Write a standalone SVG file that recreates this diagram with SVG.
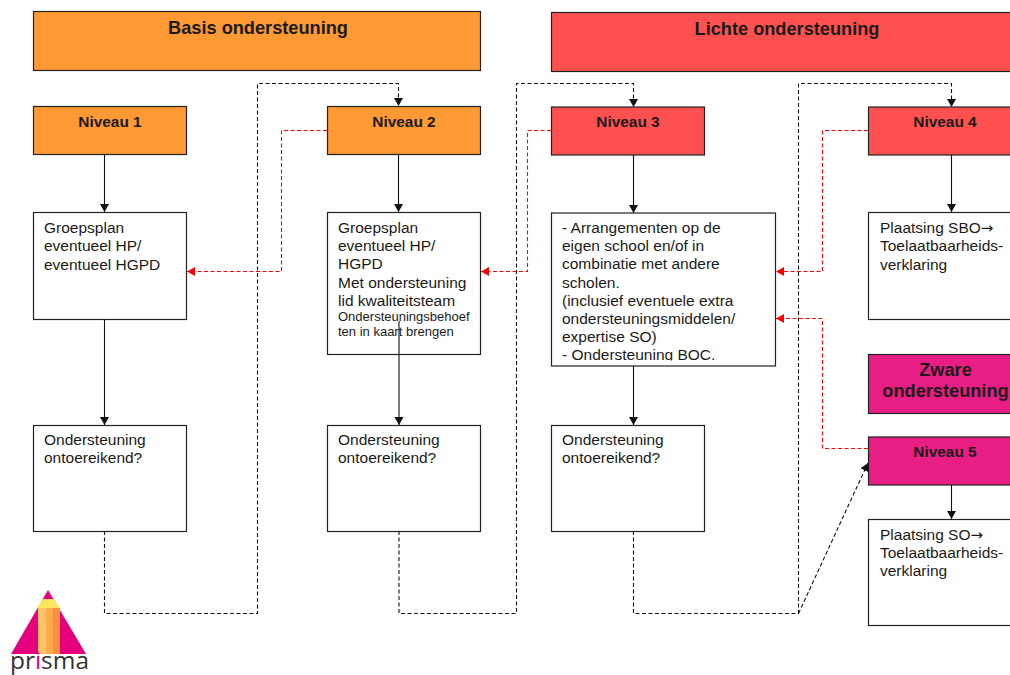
<svg xmlns="http://www.w3.org/2000/svg" width="1010" height="675" viewBox="0 0 1010 675">
<style>
text{font-family:"Liberation Sans",Arial,sans-serif;fill:#1a1a1a}
.t{font-size:15.5px}
.s{font-size:13px}
.h{font-size:18.2px;font-weight:bold;text-anchor:middle}
.n{font-size:15.4px;font-weight:bold;text-anchor:middle}
.x{font-family:"DejaVu Sans",sans-serif;font-size:15px}
.b{stroke:#222;stroke-width:1.2}
.w{fill:#fff}.o{fill:#FF9933}.r{fill:#FF5050}.p{fill:#E91E84}
.c{fill:none;stroke:#111;stroke-width:1.1}
.d{stroke-dasharray:4 2.5}
.e{fill:none;stroke:#f00;stroke-width:1.1;stroke-dasharray:4 2.5}
</style>
<defs>
<marker id="ak" markerUnits="userSpaceOnUse" markerWidth="9" markerHeight="10" refX="8" refY="4.500" orient="auto"><path d="M0 0L8 4.500L0 9Z" fill="#111"/></marker>
<marker id="ar" markerUnits="userSpaceOnUse" markerWidth="9" markerHeight="10" refX="8" refY="4.500" orient="auto"><path d="M0 0L8 4.500L0 9Z" fill="#f00"/></marker>
<clipPath id="boc"><rect x="552" y="214" width="222" height="146.500"/></clipPath>
</defs>
<g id="logo">
<path d="M48 590L86 654H11Z" fill="#E6007E"/>
<path d="M43 599H53L60 608H37Z" fill="#FFE55C"/>
<rect x="38" y="608" width="8" height="46" fill="#FFC266"/>
<rect x="46" y="608" width="7" height="46" fill="#FFAB4D"/>
<rect x="53" y="608" width="7" height="46" fill="#F98F3F"/>
<text x="10" y="669" style="font-family:'Open Sans',sans-serif;font-size:24px;fill:#333" textLength="79" lengthAdjust="spacingAndGlyphs">pr<tspan style="fill:#E6007E">i</tspan>sma</text>
</g>
<g id="basis"><rect class="b o" x="33.5" y="11.500" width="447" height="59"/><text class="h" x="258" y="34">Basis ondersteuning</text></g>
<g id="licht"><rect class="b r" x="551.5" y="12.500" width="470" height="59"/><text class="h" x="787" y="35">Lichte ondersteuning</text></g>
<g id="niveau1"><rect class="b o" x="33.5" y="106.500" width="153" height="48"/><text class="n" x="110" y="127">Niveau 1</text></g>
<g id="niveau2"><rect class="b o" x="327.5" y="106.500" width="153" height="48"/><text class="n" x="404" y="127">Niveau 2</text></g>
<g id="niveau3"><rect class="b r" x="551.5" y="107" width="153" height="48"/><text class="n" x="628" y="127">Niveau 3</text></g>
<g id="niveau4"><rect class="b r" x="868.5" y="107" width="153" height="48"/><text class="n" x="945" y="127">Niveau 4</text></g>
<g id="box1"><rect class="b w" x="33.5" y="212.500" width="153" height="107"/><text class="t" x="44" y="233">Groepsplan</text><text class="t" x="44" y="251">eventueel HP/</text><text class="t" x="44" y="270">eventueel HGPD</text></g>
<g id="box2"><rect class="b w" x="327.5" y="212.500" width="153" height="142"/><text class="t" x="338" y="233">Groepsplan</text><text class="t" x="338" y="251">eventueel HP/</text><text class="t" x="338" y="269">HGPD</text><text class="t" x="338" y="288">Met ondersteuning</text><text class="t" x="338" y="306">lid kwaliteitsteam</text><text class="s" x="338" y="321">Ondersteuningsbehoef</text><text class="s" x="338" y="336">ten in kaart brengen</text></g>
<g id="box3"><rect class="b w" x="551.5" y="213" width="224" height="153"/><g clip-path="url(#boc)"><text class="t" x="562" y="233">- Arrangementen op de</text><text class="t" x="562" y="251">eigen school en/of in</text><text class="t" x="562" y="269">combinatie met andere</text><text class="t" x="562" y="288">scholen.</text><text class="t" x="562" y="306">(inclusief eventuele extra</text><text class="t" x="562" y="324">ondersteuningsmiddelen/</text><text class="t" x="562" y="342">expertise SO)</text><text class="t" x="562" y="360">- Ondersteuning BOC.</text></g></g>
<g id="box4"><rect class="b w" x="868.5" y="212.500" width="153" height="107"/><text class="t" x="880" y="233">Plaatsing SBO<tspan class="x">→</tspan></text><text class="t" x="880" y="251">Toelaatbaarheids-</text><text class="t" x="880" y="270">verklaring</text></g>
<g id="zware"><rect class="b p" x="868.5" y="354.500" width="153" height="59"/><text class="h" x="945.500" y="376">Zware</text><text class="h" x="945.500" y="397">ondersteuning</text></g>
<g id="niveau5"><rect class="b p" x="868.5" y="437" width="153" height="48"/><text class="n" x="945" y="457">Niveau 5</text></g>
<g id="box5"><rect class="b w" x="868.5" y="519.500" width="153" height="106"/><text class="t" x="880" y="540">Plaatsing SO<tspan class="x">→</tspan></text><text class="t" x="880" y="558">Toelaatbaarheids-</text><text class="t" x="880" y="576">verklaring</text></g>
<g id="onv1"><rect class="b w" x="33.5" y="425.500" width="153" height="106"/><text class="t" x="44" y="445">Ondersteuning</text><text class="t" x="44" y="463">ontoereikend?</text></g>
<g id="onv2"><rect class="b w" x="327.5" y="425.500" width="153" height="106"/><text class="t" x="338" y="445">Ondersteuning</text><text class="t" x="338" y="463">ontoereikend?</text></g>
<g id="onv3"><rect class="b w" x="551.5" y="425.500" width="153" height="106"/><text class="t" x="562" y="445">Ondersteuning</text><text class="t" x="562" y="463">ontoereikend?</text></g>
<g id="connectors">
<path class="c" d="M104.500 154V212" marker-end="url(#ak)"/>
<path class="c" d="M104.500 319V425" marker-end="url(#ak)"/>
<path class="c" d="M398.500 154V212" marker-end="url(#ak)"/>
<path class="c" d="M399 321V425" marker-end="url(#ak)"/>
<path class="c" d="M633.500 155V213" marker-end="url(#ak)"/>
<path class="c" d="M633.500 366V425" marker-end="url(#ak)"/>
<path class="c" d="M951.500 155V212" marker-end="url(#ak)"/>
<path class="c" d="M951.500 485V519" marker-end="url(#ak)"/>
<path class="c d" d="M104.500 531V613.500H257.500V83.500H398.500V106" marker-end="url(#ak)"/>
<path class="c d" d="M399 531V613.500H516.500V83.500H633.500V107" marker-end="url(#ak)"/>
<path class="c d" d="M633.500 531V613.500H798.500V83.500H951.500V107" marker-end="url(#ak)"/>
<path class="c d" d="M798.500 613.500L868 463" marker-end="url(#ak)"/>
<path class="e" d="M327 130.500H281.500V271.500H187" marker-end="url(#ar)"/>
<path class="e" d="M551 130.500H527.500V271.500H481" marker-end="url(#ar)"/>
<path class="e" d="M868 130.500H822.500V271.500H776" marker-end="url(#ar)"/>
<path class="e" d="M868 448.500H822.500V318.500H776" marker-end="url(#ar)"/>
</g>
</svg>
